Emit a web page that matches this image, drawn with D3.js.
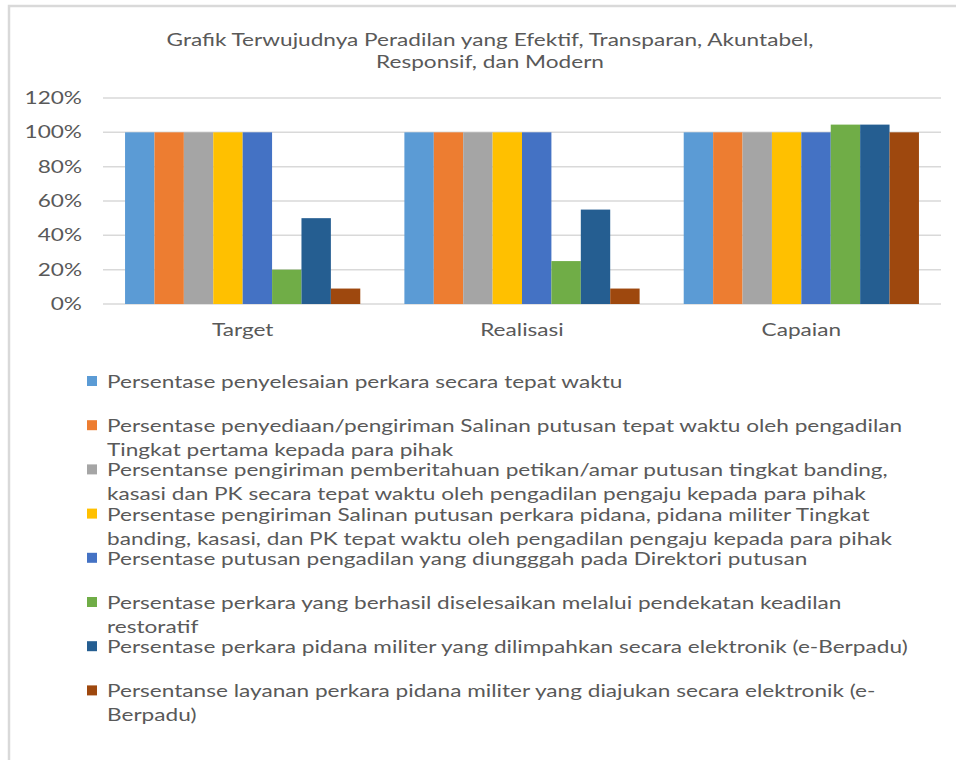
<!DOCTYPE html>
<html>
<head>
<meta charset="utf-8">
<script src="https://cdn.jsdelivr.net/npm/d3@7"></script>
<style>
  body { margin: 0; background: #fff; }
  svg { display: block; }
</style>
</head>
<body>
<div id="chart"></div>
<script>
// ---- Data ----
const categories = ['Target', 'Realisasi', 'Capaian'];

const seriesNames = [
  'Persentase penyelesaian perkara secara tepat waktu',
  'Persentase penyediaan/pengiriman Salinan putusan tepat waktu oleh pengadilan\nTingkat pertama kepada para pihak',
  'Persentanse pengiriman pemberitahuan petikan/amar putusan tingkat banding,\nkasasi dan PK secara tepat waktu oleh pengadilan pengaju kepada para pihak',
  'Persentase pengiriman Salinan putusan perkara pidana, pidana militer Tingkat\nbanding, kasasi, dan PK tepat waktu oleh pengadilan pengaju kepada para pihak',
  'Persentase putusan pengadilan yang diungggah pada Direktori putusan',
  'Persentase perkara yang berhasil diselesaikan melalui pendekatan keadilan\nrestoratif',
  'Persentase perkara pidana militer yang dilimpahkan secara elektronik (e-Berpadu)',
  'Persentanse layanan perkara pidana militer yang diajukan secara elektronik (e-\nBerpadu)'
];

// values per series, in order Target, Realisasi, Capaian
const s1 = [100, 100, 100];
const s2 = [100, 100, 100];
const s3 = [100, 100, 100];
const s4 = [100, 100, 100];
const s5 = [100, 100, 100];
const s6 = [20, 25, 104.5];
const s7 = [50, 55, 104.5];
const s8 = [9, 9, 100];
const seriesValues = [s1, s2, s3, s4, s5, s6, s7, s8];

const colors = ['#5b9bd5', '#ed7d31', '#a5a5a5', '#ffc000', '#4472c4', '#70ad47', '#255e91', '#9e480e'];

const yTicks = [0, 20, 40, 60, 80, 100, 120];
const titleLines = ['Grafik Terwujudnya Peradilan yang Efektif, Transparan, Akuntabel,', 'Responsif, dan Modern'];

// ---- Layout ----
const width = 956, height = 760;
const plot = { left: 103, right: 941, top: 98, bottom: 304 };
const font = 'Lato, Carlito, Calibri, sans-serif';
const textColor = '#595959';
const stretch = 1.33; // the reference text is horizontally widened

const svg = d3.select('#chart').append('svg')
  .attr('width', width)
  .attr('height', height);

// outer frame
svg.append('rect')
  .attr('x', 9).attr('y', 6)
  .attr('width', width + 10).attr('height', height + 10)
  .attr('fill', '#fff')
  .attr('stroke', '#d9d9d9')
  .attr('stroke-width', 2.5);

function styleText(sel) {
  return sel
    .attr('font-family', font)
    .attr('font-size', 17)
    .attr('fill', textColor);
}

// title
styleText(svg.append('g').selectAll('text')
  .data(titleLines)
  .join('text')
  .attr('transform', (d, i) => `translate(490, ${46 + i * 22}) scale(${stretch}, 1)`)
  .attr('text-anchor', 'middle'))
  .text(d => d);

// ---- Scales ----
const x0 = d3.scaleBand()
  .domain(categories)
  .range([plot.left, plot.right])
  .paddingInner(0)
  .paddingOuter(0);

const barW = x0.bandwidth() / 9.5;

const y = d3.scaleLinear()
  .domain([0, 120])
  .range([plot.bottom, plot.top]);

// gridlines
svg.append('g').selectAll('line')
  .data(yTicks)
  .join('line')
  .attr('x1', plot.left).attr('x2', plot.right)
  .attr('y1', d => y(d)).attr('y2', d => y(d))
  .attr('stroke', '#d9d9d9')
  .attr('stroke-width', 1.5);

// y labels
styleText(svg.append('g').selectAll('text')
  .data(yTicks)
  .join('text')
  .attr('transform', d => `translate(82, ${y(d)}) scale(${stretch}, 1)`)
  .attr('dy', '0.35em')
  .attr('text-anchor', 'end'))
  .text(d => d + '%');

// bars
const barsG = svg.append('g');
categories.forEach((cat, ci) => {
  const gx = x0(cat) + barW * 0.75;
  barsG.append('g').selectAll('rect')
    .data(seriesValues.map((vals, si) => ({ si, v: vals[ci] })))
    .join('rect')
    .attr('x', d => gx + d.si * barW)
    .attr('y', d => y(d.v))
    .attr('width', barW)
    .attr('height', d => y(0) - y(d.v))
    .attr('fill', d => colors[d.si]);
});

// category labels
styleText(svg.append('g').selectAll('text')
  .data(categories)
  .join('text')
  .attr('transform', d => `translate(${x0(d) + x0.bandwidth() / 2}, 336) scale(${stretch}, 1)`)
  .attr('text-anchor', 'middle'))
  .text(d => d);

// ---- Legend ----
const legendG = svg.append('g');
const item = legendG.selectAll('g')
  .data(seriesNames)
  .join('g')
  .attr('transform', (d, i) => `translate(87, ${382 + i * 44.2})`);

item.append('rect')
  .attr('x', 0).attr('y', -6)
  .attr('width', 10).attr('height', 10)
  .attr('fill', (d, i) => colors[i]);

styleText(item.append('text')
  .attr('transform', `translate(20, 0) scale(${stretch}, 1)`))
  .selectAll('tspan')
  .data(d => d.split('\n'))
  .join('tspan')
  .attr('x', 0)
  .attr('y', (d, i) => 6 + i * 24)
  .text(d => d);
</script>
</body>
</html>
